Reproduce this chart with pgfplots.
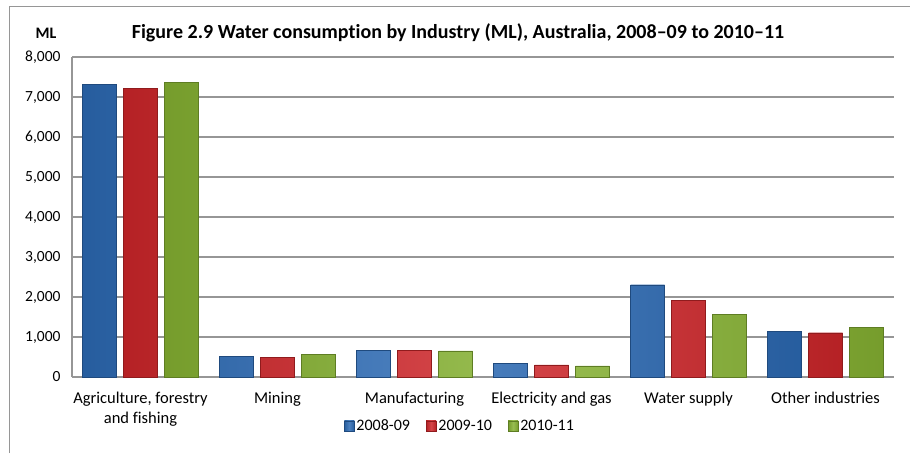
\documentclass[border=0pt]{standalone}
\usepackage{pgfplots}
\pgfplotsset{compat=1.18}
\usetikzlibrary{calc}
\usepackage{fontspec}
\setmainfont{Carlito}[Ligatures=NoCommon]
\definecolor{bblue}{RGB}{44,106,180}
\definecolor{bred}{RGB}{206,38,42}
\definecolor{bgreen}{RGB}{134,178,50}
\definecolor{gridgray}{RGB}{150,150,150}

\begin{document}
\begin{tikzpicture}
    \begin{axis}[
        name=ax,
        scale only axis,
        width=822pt, height=320pt,
        ybar=7pt,
        bar width=34pt,
        xmin=-0.5, xmax=5.5,
        ymin=0, ymax=8000,
        ytick={0,1000,...,8000},
        xtick=data,
        xticklabels={{Agriculture, forestry\\and fishing}, Mining, Manufacturing, Electricity and gas, Water supply, Other industries},
        x tick label style={font=\fontsize{16.5}{20}\selectfont, align=center, yshift=-12pt},
        y tick label style={font=\fontsize{15.5}{18}\selectfont, xshift=-8pt},
        /pgf/number format/assume math mode=true,
        /pgf/number format/1000 sep={,},
        scaled y ticks=false,
        axis lines*=left,
        axis line style={gridgray, line width=1.2pt},
        ymajorgrids=true,
        grid style={gridgray, line width=1.2pt},
        major tick length=0pt,
        tick style={draw=none},
        legend columns=3,
        legend style={draw=none, fill=none, at={(0.472,-0.12)}, anchor=north,
            font=\fontsize{16}{19}\selectfont,
            /tikz/every even column/.append style={column sep=14pt}},
        legend image code/.code={\fill[#1] (0pt,-5pt) rectangle (10pt,5pt);},
        clip=false,
    ]
    \addplot[draw=bblue!70!black, left color=bblue!88!black, right color=bblue!88!black, middle color=bblue!85!white] coordinates {
        (0,7325) (1,511) (2,670) (3,337) (4,2307) (5,1141)
    };
    \addplot[draw=bred!70!black, left color=bred!88!black, right color=bred!88!black, middle color=bred!85!white] coordinates {
        (0,7217) (1,496) (2,670) (3,305) (4,1918) (5,1107)
    };
    \addplot[draw=bgreen!70!black, left color=bgreen!88!black, right color=bgreen!88!black, middle color=bgreen!85!white] coordinates {
        (0,7367) (1,571) (2,655) (3,280) (4,1571) (5,1241)
    };
    \legend{2008-09, 2009-10, 2010-11}
    \end{axis}
    \pgfresetboundingbox
    \coordinate (o) at ($(ax.south west)+(-72pt,-76pt)$);
    \path[use as bounding box] (o) rectangle ++(910pt,453pt);
    \draw[gridgray, line width=1pt] ($(o)+(10pt,0)$) -- ++(0,446pt) -- ++(900pt,0);
    \node[font=\bfseries\fontsize{16}{19}\selectfont] at ($(o)+(46pt,420pt)$) {ML};
    \node[font=\bfseries\fontsize{20}{24}\selectfont] at ($(o)+(458pt,420pt)$) {Figure 2.9 Water consumption by Industry (ML), Australia, 2008--09 to 2010--11};
\end{tikzpicture}
\end{document}
